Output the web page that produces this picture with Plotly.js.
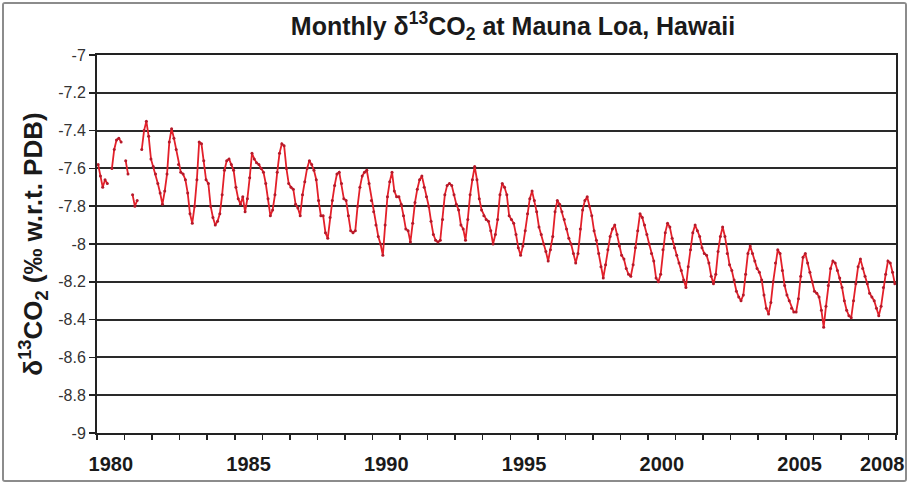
<!DOCTYPE html>
<html>
<head>
<meta charset="utf-8">
<script src="https://cdn.plot.ly/plotly-3.0.1.min.js"></script>
<style>
html,body{margin:0;padding:0;background:#fff;}
#wrap{position:absolute;left:2px;top:2px;width:901px;height:476px;border:2px solid #8c8c8c;border-radius:3px;overflow:hidden;}
#chart{width:901px;height:476px;}
</style>
</head>
<body>
<div id="wrap"><div id="chart"></div></div>
<script>
// Monthly δ13CO2 values (‰), Jan..Dec for each year starting 1980 (null = no data)
const startYear = 1980;
const d13c = [
  -7.58,-7.64,-7.70,-7.66,-7.68, null,-7.60,-7.50,-7.45,-7.44,-7.46, null, // 1980
  -7.56,-7.63, null,-7.74,-7.80,-7.77, null,-7.50,-7.40,-7.35,-7.43,-7.55, // 1981
  -7.59,-7.63,-7.68,-7.73,-7.79,-7.72,-7.63,-7.46,-7.39,-7.44,-7.50,-7.58, // 1982
  -7.62,-7.63,-7.66,-7.73,-7.84,-7.89,-7.80,-7.66,-7.46,-7.47,-7.56,-7.66, // 1983
  -7.68,-7.80,-7.86,-7.90,-7.88,-7.84,-7.74,-7.61,-7.56,-7.55,-7.58,-7.61, // 1984
  -7.70,-7.76,-7.79,-7.75,-7.83,-7.76,-7.65,-7.52,-7.55,-7.57,-7.58,-7.60, // 1985
  -7.62,-7.68,-7.76,-7.85,-7.82,-7.74,-7.62,-7.52,-7.47,-7.48,-7.60,-7.68, // 1986
  -7.70,-7.71,-7.79,-7.81,-7.85,-7.74,-7.67,-7.60,-7.56,-7.58,-7.61,-7.66, // 1987
  -7.77,-7.85,-7.85,-7.94,-7.97,-7.86,-7.77,-7.69,-7.63,-7.62,-7.68,-7.76, // 1988
  -7.77,-7.85,-7.93,-7.94,-7.93,-7.80,-7.70,-7.64,-7.62,-7.61,-7.68,-7.77, // 1989
  -7.83,-7.90,-7.96,-8.00,-8.06,-7.90,-7.75,-7.67,-7.62,-7.72,-7.75,-7.75, // 1990
  -7.79,-7.85,-7.92,-7.93,-7.99,-7.89,-7.78,-7.71,-7.66,-7.64,-7.70,-7.75, // 1991
  -7.80,-7.88,-7.95,-7.98,-7.99,-7.98,-7.87,-7.74,-7.69,-7.68,-7.69,-7.74, // 1992
  -7.79,-7.82,-7.90,-7.92,-7.98,-7.87,-7.74,-7.66,-7.59,-7.66,-7.76,-7.82, // 1993
  -7.85,-7.87,-7.88,-7.93,-8.00,-7.95,-7.87,-7.74,-7.68,-7.70,-7.74,-7.85, // 1994
  -7.87,-7.89,-7.95,-8.02,-8.06,-8.01,-7.93,-7.84,-7.76,-7.72,-7.77,-7.83, // 1995
  -7.91,-7.95,-8.00,-8.04,-8.09,-8.03,-7.96,-7.83,-7.77,-7.79,-7.83,-7.87, // 1996
  -7.92,-7.97,-8.00,-8.05,-8.10,-8.05,-7.92,-7.82,-7.77,-7.75,-7.80,-7.85, // 1997
  -7.93,-7.98,-8.05,-8.12,-8.18,-8.11,-8.03,-7.96,-7.92,-7.90,-7.95,-8.01, // 1998
  -8.06,-8.08,-8.13,-8.16,-8.17,-8.11,-8.02,-7.93,-7.84,-7.86,-7.90,-7.95, // 1999
  -8.00,-8.05,-8.09,-8.18,-8.20,-8.16,-8.03,-7.94,-7.89,-7.91,-7.97,-8.02, // 2000
  -8.06,-8.10,-8.14,-8.19,-8.23,-8.12,-8.03,-7.94,-7.90,-7.93,-7.96,-8.02, // 2001
  -8.05,-8.06,-8.10,-8.17,-8.21,-8.16,-8.04,-7.96,-7.91,-7.96,-8.05,-8.11, // 2002
  -8.14,-8.19,-8.25,-8.28,-8.30,-8.27,-8.16,-8.05,-8.01,-8.05,-8.09,-8.13, // 2003
  -8.15,-8.19,-8.27,-8.34,-8.37,-8.31,-8.20,-8.10,-8.03,-8.05,-8.14,-8.22, // 2004
  -8.27,-8.30,-8.34,-8.36,-8.36,-8.29,-8.17,-8.07,-8.05,-8.10,-8.15,-8.20, // 2005
  -8.25,-8.26,-8.28,-8.35,-8.44,-8.33,-8.22,-8.13,-8.09,-8.10,-8.14,-8.18, // 2006
  -8.23,-8.30,-8.35,-8.38,-8.39,-8.30,-8.21,-8.12,-8.08,-8.13,-8.17,-8.21, // 2007
  -8.26,-8.28,-8.30,-8.34,-8.38,-8.33,-8.23,-8.16,-8.09,-8.10,-8.15,-8.21  // 2008
];
const xLabelYears = [1980, 1985, 1990, 1995, 2000, 2005, 2008];
const yTickVals = [-9, -8.8, -8.6, -8.4, -8.2, -8, -7.8, -7.6, -7.4, -7.2, -7];
const yTickText = ['-9', '-8.8', '-8.6', '-8.4', '-8.2', '-8', '-7.8', '-7.6', '-7.4', '-7.2', '-7'];

// monthly positions: centre of each month in decimal years
const t = d13c.map((v, i) => startYear + Math.floor(i / 12) + ((i % 12) + 0.5) / 12);
const nYears = Math.ceil(d13c.length / 12);
const yearEdges = [];
for (let k = 0; k <= nYears; k++) yearEdges.push(startYear + k);

const trace = {
  x: t, y: d13c, type: 'scatter', mode: 'lines+markers',
  connectgaps: false,
  line: {color: '#e3202a', width: 1.8},
  marker: {size: 3, color: '#b51a2a'},
  hoverinfo: 'x+y'
};

const font = 'Liberation Sans, Arial, sans-serif';
const layout = {
  width: 901, height: 476,
  margin: {l: 93, r: 901 - (896 - 4), t: 55 - 4, b: 476 - (433 - 4)},
  paper_bgcolor: '#ffffff', plot_bgcolor: '#ffffff',
  showlegend: false,
  font: {family: font, color: '#222'},
  title: {
    text: '<b>Monthly δ<sup>13</sup>CO<sub>2</sub> at Mauna Loa, Hawaii</b>',
    font: {family: font, size: 25, color: '#1a1a1a'},
    xref: 'container', x: 0.565, xanchor: 'center',
    yref: 'container', y: 1 - 22 / 476, yanchor: 'middle'
  },
  xaxis: {
    range: [startYear, startYear + nYears],
    tickmode: 'array',
    tickvals: xLabelYears.map(y => y + 0.5),
    ticktext: xLabelYears.map(y => '<b>' + y + '</b>'),
    ticks: '', showgrid: false, zeroline: false,
    ticklabelstandoff: 12,
    tickfont: {family: font, size: 20, color: '#1a1a1a'},
    showline: true, linecolor: '#222', linewidth: 2, mirror: true,
    minor: {tickmode: 'array', tickvals: yearEdges, ticks: 'outside', ticklen: 5, tickwidth: 1.5, tickcolor: '#222', showgrid: false}
  },
  yaxis: {
    range: [-9, -7],
    tickmode: 'array', tickvals: yTickVals, ticktext: yTickText,
    ticks: 'outside', ticklen: 6, tickwidth: 1.5, tickcolor: '#222',
    showgrid: true, gridcolor: '#2a2a2a', gridwidth: 2,
    zeroline: false,
    showline: true, linecolor: '#222', linewidth: 2, mirror: true,
    tickfont: {family: font, size: 16, color: '#333'},
    title: {
      text: '<b>δ<sup>13</sup>CO<sub>2</sub> (‰ w.r.t. PDB)</b>',
      font: {family: font, size: 26, color: '#1a1a1a'},
      standoff: 8
    }
  }
};

Plotly.newPlot('chart', [trace], layout, {displayModeBar: false, staticPlot: true});
</script>
</body>
</html>
